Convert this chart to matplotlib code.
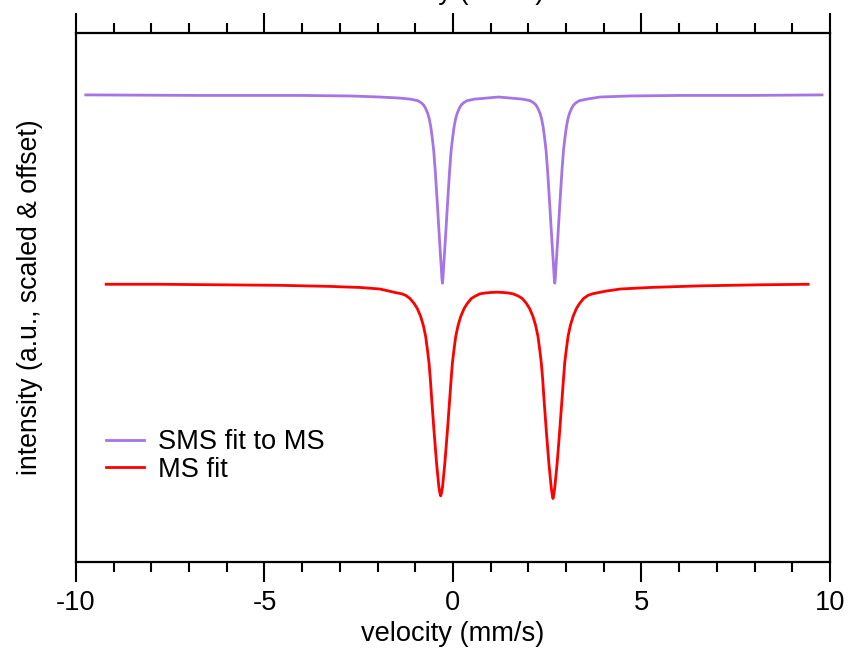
import matplotlib
matplotlib.use('Agg')
import matplotlib.pyplot as plt
from matplotlib.ticker import MultipleLocator, NullLocator

# velocity (mm/s) and intensity (a.u., scaled & offset)
sms_v = [-9.74, -6.71, -4.06, -2.73, -1.94, -1.41,
         -1.13, -0.93, -0.84, -0.78, -0.73, -0.67, -0.63, -0.59, -0.55, -0.51, -0.47,
         -0.413, -0.36, -0.31, -0.295, -0.28,
         -0.265, -0.25, -0.20, -0.147, -0.09, -0.05, -0.01, 0.03, 0.07, 0.11, 0.17,
         0.22, 0.28, 0.37, 0.57,
         1.21,
         1.85, 2.05, 2.14, 2.20, 2.25, 2.31, 2.35, 2.39, 2.43, 2.47, 2.51, 2.567,
         2.62, 2.67, 2.685, 2.70,
         2.715, 2.73, 2.78, 2.833, 2.89, 2.93, 2.97, 3.01, 3.05, 3.09, 3.15, 3.20,
         3.26, 3.35, 3.55,
         3.90, 4.70, 6.02, 7.88, 9.79]
sms_i = [0.883, 0.882, 0.882, 0.881, 0.879, 0.877,
         0.875, 0.872, 0.868, 0.864, 0.858, 0.848, 0.838, 0.823, 0.802, 0.777, 0.739,
         0.675, 0.612, 0.556, 0.537, 0.527,
         0.537, 0.556, 0.612, 0.675, 0.739, 0.777, 0.802, 0.823, 0.838, 0.848, 0.858,
         0.864, 0.868, 0.872, 0.875,
         0.879,
         0.875, 0.872, 0.868, 0.864, 0.858, 0.848, 0.838, 0.823, 0.802, 0.777, 0.739, 0.675,
         0.612, 0.556, 0.537, 0.527,
         0.537, 0.556, 0.612, 0.675, 0.739, 0.777, 0.802, 0.823, 0.838, 0.848, 0.858, 0.864,
         0.868, 0.872, 0.875,
         0.879, 0.881, 0.882, 0.882, 0.883]

ms_v = [-9.20, -7.77, -6.18, -4.59, -3.26, -2.90, -2.47, -2.20, -1.94, -1.75,
        -1.509, -1.36, -1.254, -1.14, -1.034, -0.946, -0.857, -0.786, -0.724, -0.676,
        -0.636, -0.60, -0.569, -0.506, -0.436, -0.375, -0.346, -0.326,
        -0.306, -0.277, -0.216, -0.146, -0.083, -0.05, -0.016, 0.024, 0.072, 0.134,
        0.205, 0.294, 0.382, 0.484, 0.602, 0.716, 0.857,
        1.00, 1.163, 1.33,
        1.470, 1.59, 1.725, 1.84, 1.945, 2.033, 2.122, 2.193, 2.255, 2.303,
        2.343, 2.38, 2.410, 2.473, 2.543, 2.604, 2.633, 2.653,
        2.673, 2.702, 2.763, 2.833, 2.896, 2.93, 2.963, 3.003, 3.051, 3.113,
        3.184, 3.273, 3.361, 3.463, 3.581, 3.70, 3.836,
        4.05, 4.43, 5.23, 6.55, 8.14, 9.42]
ms_i = [0.525, 0.525, 0.524, 0.523, 0.521, 0.520, 0.519, 0.5175, 0.516, 0.513,
        0.509, 0.507, 0.504, 0.498, 0.489, 0.479, 0.464, 0.447, 0.426, 0.400,
        0.376, 0.345, 0.312, 0.250, 0.187, 0.142, 0.130, 0.125,
        0.130, 0.142, 0.187, 0.250, 0.312, 0.345, 0.376, 0.400, 0.426, 0.447,
        0.464, 0.479, 0.489, 0.498, 0.503, 0.507, 0.5085,
        0.5095, 0.510, 0.5095,
        0.5085, 0.507, 0.503, 0.498, 0.489, 0.479, 0.464, 0.447, 0.426, 0.400,
        0.376, 0.345, 0.312, 0.250, 0.187, 0.142, 0.127, 0.120,
        0.127, 0.142, 0.187, 0.250, 0.312, 0.345, 0.376, 0.400, 0.426, 0.447,
        0.464, 0.479, 0.489, 0.498, 0.504, 0.507, 0.509,
        0.512, 0.516, 0.519, 0.522, 0.524, 0.525]

plt.rcParams['font.family'] = ['Liberation Sans', 'DejaVu Sans']
plt.rcParams['axes.unicode_minus'] = False
fs = 19.6

fig = plt.figure(figsize=(8.53, 6.55), dpi=100)
ax = fig.add_axes([0.0891, 0.1420, 0.8839, 0.8076])

ax.plot(sms_v, sms_i, color='#A674E4', lw=2.0, label='SMS fit to MS')
ax.plot(ms_v, ms_i, color='#FF0000', lw=2.0, label='MS fit')

ax.set_xlim(-10, 10)
ax.set_ylim(0, 1)
ax.xaxis.set_major_locator(MultipleLocator(5))
ax.xaxis.set_minor_locator(MultipleLocator(1))
ax.yaxis.set_major_locator(NullLocator())
ax.tick_params(axis='x', which='both', direction='out', top=True, bottom=True,
               labelsize=fs, width=1.5, pad=6)
ax.tick_params(axis='x', which='major', length=14.5)
ax.tick_params(axis='x', which='minor', length=7.2)
for s in ax.spines.values():
    s.set_linewidth(1.6)

ax.set_xlabel('velocity (mm/s)', fontsize=fs, labelpad=3)
ax.set_ylabel('intensity (a.u., scaled & offset)', fontsize=19.2, labelpad=24)
# top axis title, mostly outside the figure
fig.text(0.531, 1.0015, 'velocity (mm/s)', fontsize=fs, ha='center', va='baseline')

ax.legend(loc='upper left', bbox_to_anchor=(0.0398, 0.2505), frameon=False,
          fontsize=fs, handlelength=1.4, handletextpad=0.5, labelspacing=0.05,
          borderpad=0, borderaxespad=0)

fig.savefig('out.png', dpi=100)
